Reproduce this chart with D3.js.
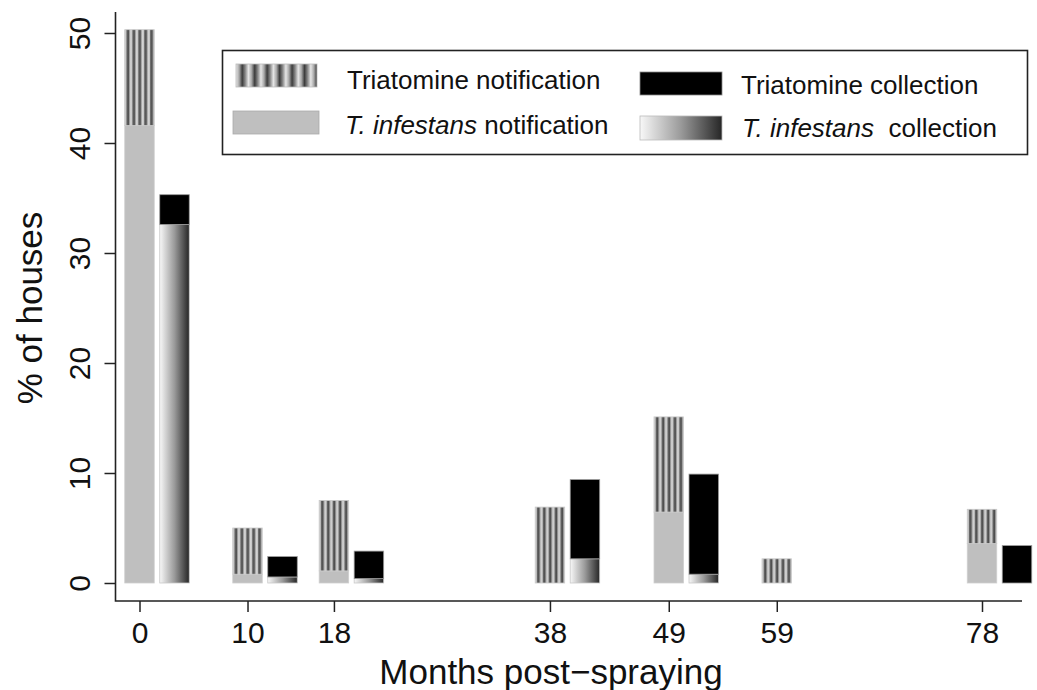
<!DOCTYPE html>
<html><head><meta charset="utf-8">
<script src="https://cdn.jsdelivr.net/npm/d3@7"></script>
<style>
body{margin:0;background:#fff}
svg{display:block;font-family:"Liberation Sans",Arial,Helvetica,sans-serif}
</style>
</head><body>
<svg id="chart" width="1037" height="690"></svg>
<script>
// ---- data ----
const months = [0, 10, 18, 38, 49, 59, 78];
const triatomineNotification = [50.3, 5.0, 7.5, 6.9, 15.1, 2.2, 6.7];
const infestansNotification  = [41.6, 0.8, 1.1, 0, 6.45, 0, 3.6];
const triatomineCollection   = [35.3, 2.4, 2.9, 9.4, 9.9, 0, 3.4];
const infestansCollection    = [32.6, 0.55, 0.4, 2.2, 0.8, 0, 0];
const yTicks = [0, 10, 20, 30, 40, 50];
const xTickLabels = ["0", "10", "18", "38", "49", "59", "78"];
const xTitle = "Months post\u2212spraying";
const yTitle = "% of houses";

// ---- layout ----
const svg = d3.select("#chart");
const x = d3.scaleLinear().domain([0, 78]).range([139.5, 982]);
const y = d3.scaleLinear().domain([0, 50]).range([583, 33]);
const barW = 29.5, collOffset = 35;
const axisX = 115.5, axisY = 601;

// ---- defs ----
const defs = svg.append("defs");
function stripeGrad(id, period, stops) {
  const g = defs.append("linearGradient").attr("id", id)
    .attr("x1", 0).attr("x2", period).attr("y1", 0).attr("y2", 0)
    .attr("spreadMethod", "repeat");
  stops.forEach(([o, c]) => g.append("stop").attr("offset", o).attr("stop-color", c));
}
stripeGrad("stripes", 0.2,
  [[0, "#d4d4d4"], [0.2, "#c6c6c6"], [0.38, "#666"], [0.62, "#4e4e4e"], [0.8, "#9a9a9a"], [1, "#d4d4d4"]]);
stripeGrad("stripesLeg", 1 / 6.5,
  [[0, "#e6e6e6"], [0.25, "#a8a8a8"], [0.5, "#3c3c3c"], [0.75, "#8a8a8a"], [1, "#e6e6e6"]]);
const fade = defs.append("linearGradient").attr("id", "fade")
  .attr("x1", 0).attr("x2", 1).attr("y1", 0).attr("y2", 0);
[[0, "#f8f8f8"], [0.5, "#9a9a9a"], [1, "#262626"]]
  .forEach(([o, c]) => fade.append("stop").attr("offset", o).attr("stop-color", c));

// ---- bars ----
const rows = months.map((m, i) => ({
  m, tn: triatomineNotification[i], in_: infestansNotification[i],
  tc: triatomineCollection[i], ic: infestansCollection[i]
}));
const bars = svg.append("g");
function seg(cx, lo, hi, fill, stroke) {
  if (hi <= lo) return;
  bars.append("rect")
    .attr("x", cx - barW / 2).attr("width", barW)
    .attr("y", y(hi)).attr("height", y(lo) - y(hi))
    .attr("fill", fill).attr("stroke", stroke).attr("stroke-width", 0.8);
}
rows.forEach(d => {
  const cn = x(d.m), cc = x(d.m) + collOffset;
  seg(cn, 0, d.in_, "#bfbfbf", "#cfcfcf");
  seg(cn, d.in_, d.tn, "url(#stripes)", "#c8c8c8");
  seg(cc, 0, d.ic, "url(#fade)", "#c8c8c8");
  seg(cc, d.ic, d.tc, "#000", "#9a9a9a");
});

// ---- axes ----
const yAxis = svg.append("g").attr("transform", `translate(${axisX},0)`)
  .call(d3.axisLeft(y).tickValues(yTicks).tickSize(11).tickFormat(d3.format("d")));
yAxis.select(".domain").remove();
yAxis.selectAll("line").attr("stroke", "#222").attr("stroke-width", 1.5);
yAxis.selectAll("text")
  .attr("x", null).attr("dy", null)
  .attr("transform", "translate(-26,0) rotate(-90)")
  .attr("text-anchor", "middle").attr("font-size", 30).attr("fill", "#111");

const xAxis = svg.append("g").attr("transform", `translate(0,${axisY})`)
  .call(d3.axisBottom(x).tickValues(months).tickSize(11).tickFormat((d, i) => xTickLabels[i]));
xAxis.select(".domain").remove();
xAxis.selectAll("line").attr("stroke", "#222").attr("stroke-width", 1.5);
xAxis.selectAll("text")
  .attr("y", 42).attr("dy", null)
  .attr("font-size", 30).attr("fill", "#111");
yAxis.attr("font-family", null);
xAxis.attr("font-family", null);

// L-shaped frame
svg.append("path")
  .attr("d", `M${axisX},12 V${axisY} H1022`)
  .attr("fill", "none").attr("stroke", "#222").attr("stroke-width", 1.6);

// titles
svg.append("text").attr("x", 551).attr("y", 684).attr("text-anchor", "middle")
  .attr("font-size", 35).attr("fill", "#111").text(xTitle);
svg.append("text").attr("transform", `translate(42,${(y(0) + y(50)) / 2}) rotate(-90)`)
  .attr("text-anchor", "middle").attr("font-size", 35).attr("fill", "#111").text(yTitle);

// ---- legend ----
const leg = svg.append("g");
leg.append("rect").attr("x", 222.5).attr("y", 50.5).attr("width", 805).attr("height", 104)
  .attr("fill", "#fff").attr("stroke", "#222").attr("stroke-width", 1.6);
const legendItems = [
  {key: [236, 64, 81, 23], fill: "url(#stripesLeg)", stroke: "#bbb", tx: 347, ty: 89, parts: [["Triatomine notification", false]]},
  {key: [233, 111, 86, 23], fill: "#bfbfbf", stroke: "#aaa", tx: 345, ty: 134, parts: [["T. infestans", true], [" notification", false]]},
  {key: [640, 72, 82, 23], fill: "#000", stroke: "#888", tx: 741, ty: 94, parts: [["Triatomine collection", false]]},
  {key: [640, 116, 82, 24], fill: "url(#fade)", stroke: "#bbb", tx: 742, ty: 137, parts: [["T. infestans", true], ["\u00a0 collection", false]]}
];
legendItems.forEach(it => {
  leg.append("rect").attr("x", it.key[0]).attr("y", it.key[1]).attr("width", it.key[2]).attr("height", it.key[3])
    .attr("fill", it.fill).attr("stroke", it.stroke).attr("stroke-width", 0.8);
  const t = leg.append("text").attr("x", it.tx).attr("y", it.ty).attr("font-size", 26).attr("fill", "#111");
  it.parts.forEach(([s, ital]) => t.append("tspan").attr("font-style", ital ? "italic" : "normal").text(s));
});
</script>
</body></html>
